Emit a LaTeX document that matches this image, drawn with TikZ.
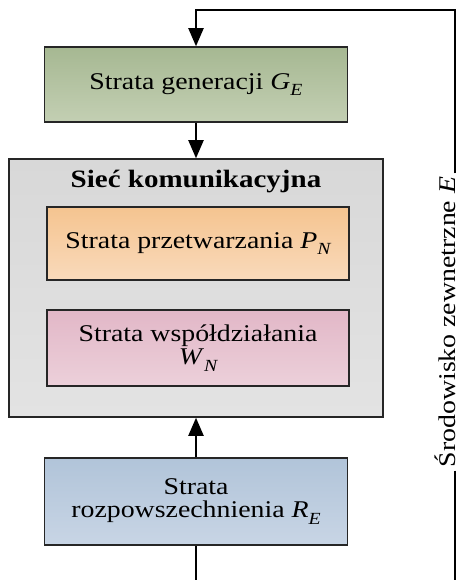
\documentclass[tikz,border=0pt]{standalone}
\usepackage{fontspec}
\setmainfont[FakeStretch=1.16]{Liberation Serif}
\usetikzlibrary{arrows.meta}

% lowered italic index, e.g. G with index E
\newcommand{\lowidx}[1]{\raisebox{-0.28em}{\fontsize{17}{17}\selectfont\itshape #1}}

\definecolor{genTop}{HTML}{A6B892}
\definecolor{genBot}{HTML}{C3CFB3}
\definecolor{procTop}{HTML}{F5C490}
\definecolor{procBot}{HTML}{F9DABB}
\definecolor{coopTop}{HTML}{E2B7C7}
\definecolor{coopBot}{HTML}{ECD0DA}
\definecolor{distTop}{HTML}{B1C4D9}
\definecolor{distBot}{HTML}{C8D5E5}
\definecolor{netTop}{HTML}{D8D8D8}
\definecolor{netBot}{HTML}{E3E3E3}
\definecolor{edge}{HTML}{262626}

\tikzset{
  every node/.style={font=\fontsize{24}{23}\selectfont},
  layerbox/.style={draw=edge, line width=1.5pt, rectangle, align=center,
    inner sep=0pt, minimum width=303pt},
  netbox/.style={draw=edge, line width=1.5pt, rectangle, inner sep=0pt,
    minimum width=374pt, minimum height=258pt, top color=netTop, bottom color=netBot},
  conn/.style={line width=2pt, black},
  arr/.style={conn, -{Triangle[width=15pt,length=18pt]}},
}

\begin{document}
\begin{tikzpicture}[x=1pt,y=-1pt]
  \useasboundingbox (0,0) rectangle (466,580);

  % communication network container
  \node[netbox] (net) at (196,288) {};
  \node[font=\fontsize{25}{24}\selectfont\bfseries] (nettitle) at (196,182) {Sieć komunikacyjna};

  % layers
  \node[layerbox, minimum height=75pt, top color=genTop, bottom color=genBot]
    (gen) at (196,84.5) {Strata generacji \textit{G}\lowidx{E}};
  \node[layerbox, minimum width=302pt, minimum height=73pt, top color=procTop, bottom color=procBot]
    (proc) at (198,243.5) {Strata przetwarzania \textit{P}\lowidx{N}};
  \node[layerbox, minimum width=302pt, minimum height=76pt, top color=coopTop, bottom color=coopBot]
    (coop) at (198,348) {Strata współdziałania\\\textit{W}\lowidx{N}};
  \node[layerbox, minimum height=87pt, top color=distTop, bottom color=distBot]
    (dist) at (196,501.5) {Strata\\rozpowszechnienia \textit{R}\lowidx{E}};

  % external environment label on the feedback line
  \node[rotate=90, anchor=base, inner sep=3pt] (env) at (455,322)
    {Środowisko zewnetrzne \textit{E}};

  \coordinate (tl) at (196,10);
  \coordinate (envend) at (455,580);
  \coordinate (distend) at (196,580);

  % connectors
  \draw[arr] (env.base east) |- (tl) -- (gen.north);
  \draw[arr] (gen.south) -- (net.north);
  \draw[arr] (dist.north) -- (net.south);
  \draw[conn] (dist.south) -- (distend);
  \draw[conn] (env.base west) -- (envend);
\end{tikzpicture}
\end{document}
